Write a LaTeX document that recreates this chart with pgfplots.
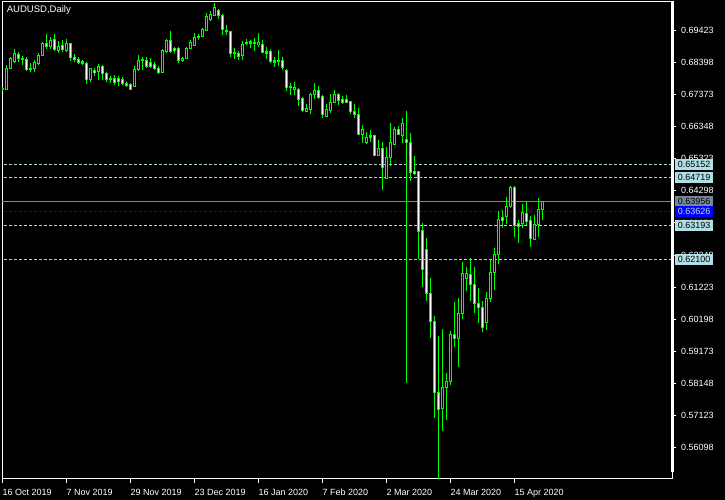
\documentclass[border=0pt]{standalone}
\usepackage{pgfplots}
\pgfplotsset{compat=1.18}
\usepackage{pgfplotstable}
\usepackage{fontspec}
\setmainfont{Liberation Sans}
\definecolor{lvl}{HTML}{ADD8E6}
\definecolor{lvlbox}{HTML}{B0E0E6}
\definecolor{bidgray}{HTML}{778899}
\definecolor{candle}{HTML}{00FF00}
\newcommand{\tickfont}{\fontsize{9}{10}\selectfont}

% AUDUSD daily candles: index, open, high, low, close
\pgfplotstableread{
i o h l c
0 0.6756 0.6760 0.6750 0.6754
1 0.6754 0.6832 0.6752 0.6821
2 0.6821 0.6858 0.6819 0.6853
3 0.6842 0.6882 0.6839 0.6867
4 0.6866 0.6874 0.6842 0.6851
5 0.6853 0.6860 0.6832 0.6851
6 0.6850 0.6858 0.6813 0.6816
7 0.6821 0.6839 0.6808 0.6818
8 0.6819 0.6847 0.6810 0.6839
9 0.6837 0.6869 0.6832 0.6863
10 0.6863 0.6905 0.6860 0.6901
11 0.6901 0.6930 0.6882 0.6892
12 0.6890 0.6920 0.6882 0.6909
13 0.6913 0.6930 0.6877 0.6882
14 0.6879 0.6909 0.6871 0.6892
15 0.6895 0.6911 0.6874 0.6882
16 0.6879 0.6913 0.6874 0.6899
17 0.6899 0.6903 0.6845 0.6856
18 0.6856 0.6867 0.6842 0.6850
19 0.6850 0.6858 0.6835 0.6839
20 0.6842 0.6847 0.6832 0.6837
21 0.6837 0.6842 0.6771 0.6784
22 0.6784 0.6821 0.6778 0.6819
23 0.6813 0.6821 0.6796 0.6807
24 0.6810 0.6835 0.6784 0.6828
25 0.6828 0.6832 0.6784 0.6803
26 0.6803 0.6810 0.6778 0.6784
27 0.6788 0.6796 0.6775 0.6784
28 0.6789 0.6800 0.6768 0.6775
29 0.6787 0.6796 0.6764 0.6778
30 0.6786 0.6792 0.6768 0.6773
31 0.6773 0.6781 0.6760 0.6767
32 0.6768 0.6773 0.6752 0.6754
33 0.6764 0.6828 0.6760 0.6818
34 0.6816 0.6863 0.6813 0.6847
35 0.6850 0.6858 0.6816 0.6845
36 0.6847 0.6856 0.6821 0.6828
37 0.6841 0.6853 0.6821 0.6828
38 0.6832 0.6842 0.6816 0.6821
39 0.6821 0.6828 0.6803 0.6807
40 0.6807 0.6882 0.6805 0.6877
41 0.6874 0.6913 0.6871 0.6909
42 0.6909 0.6941 0.6869 0.6874
43 0.6885 0.6890 0.6869 0.6879
44 0.6885 0.6890 0.6837 0.6847
45 0.6847 0.6858 0.6842 0.6853
46 0.6853 0.6890 0.6850 0.6885
47 0.6885 0.6913 0.6882 0.6903
48 0.6895 0.6933 0.6892 0.6920
49 0.6924 0.6930 0.6913 0.6920
50 0.6924 0.6949 0.6922 0.6945
51 0.6943 0.6999 0.6941 0.6986
52 0.6977 0.7005 0.6973 0.6994
53 0.6991 0.7031 0.6988 0.7016
54 0.7007 0.7009 0.6977 0.6991
55 0.6991 0.6994 0.6927 0.6945
56 0.6943 0.6959 0.6927 0.6938
57 0.6938 0.6941 0.6858 0.6869
58 0.6871 0.6885 0.6850 0.6867
59 0.6867 0.6877 0.6847 0.6860
60 0.6863 0.6909 0.6847 0.6897
61 0.6899 0.6913 0.6895 0.6903
62 0.6901 0.6911 0.6885 0.6906
63 0.6904 0.6917 0.6877 0.6902
64 0.6897 0.6933 0.6888 0.6903
65 0.6897 0.6911 0.6869 0.6871
66 0.6874 0.6888 0.6850 0.6869
67 0.6874 0.6882 0.6839 0.6842
68 0.6845 0.6856 0.6826 0.6841
69 0.6842 0.6879 0.6828 0.6847
70 0.6847 0.6856 0.6816 0.6824
71 0.6813 0.6818 0.6750 0.6760
72 0.6762 0.6773 0.6736 0.6760
73 0.6754 0.6778 0.6736 0.6760
74 0.6754 0.6757 0.6701 0.6722
75 0.6724 0.6728 0.6683 0.6686
76 0.6684 0.6707 0.6682 0.6692
77 0.6688 0.6743 0.6675 0.6739
78 0.6737 0.6773 0.6722 0.6749
79 0.6749 0.6764 0.6724 0.6727
80 0.6730 0.6736 0.6661 0.6675
81 0.6667 0.6707 0.6664 0.6688
82 0.6686 0.6739 0.6677 0.6713
83 0.6711 0.6752 0.6709 0.6739
84 0.6736 0.6743 0.6704 0.6718
85 0.6720 0.6733 0.6707 0.6711
86 0.6723 0.6736 0.6709 0.6711
87 0.6714 0.6718 0.6675 0.6683
88 0.6683 0.6707 0.6661 0.6672
89 0.6674 0.6693 0.6608 0.6611
90 0.6611 0.6640 0.6584 0.6626
91 0.6584 0.6619 0.6581 0.6601
92 0.6605 0.6624 0.6587 0.6601
93 0.6605 0.6608 0.6541 0.6543
94 0.6543 0.6592 0.6541 0.6566
95 0.6566 0.6587 0.6432 0.6505
96 0.6470 0.6571 0.6468 0.6537
97 0.6537 0.6647 0.6509 0.6584
98 0.6579 0.6633 0.6576 0.6626
99 0.6626 0.6637 0.6611 0.6611
100 0.6608 0.6661 0.6584 0.6645
101 0.6594 0.6685 0.5816 0.6584
102 0.6584 0.6616 0.6462 0.6488
103 0.6491 0.6541 0.6480 0.6484
104 0.6491 0.6494 0.6211 0.6299
105 0.6302 0.6328 0.6122 0.6179
106 0.6243 0.6280 0.6079 0.6103
107 0.6103 0.6151 0.5959 0.6014
108 0.6014 0.6030 0.5704 0.5787
109 0.5787 0.5966 0.5510 0.5732
110 0.5736 0.5989 0.5664 0.5803
111 0.5803 0.5849 0.5698 0.5821
112 0.5821 0.5982 0.5810 0.5970
113 0.5970 0.6076 0.5930 0.5959
114 0.5959 0.6089 0.5868 0.6039
115 0.6039 0.6204 0.6020 0.6167
116 0.6151 0.6188 0.6111 0.6167
117 0.6164 0.6214 0.6079 0.6131
118 0.6131 0.6188 0.6039 0.6071
119 0.6071 0.6121 0.6007 0.6058
120 0.6058 0.6079 0.5980 0.5994
121 0.6009 0.6108 0.5986 0.6087
122 0.6087 0.6211 0.6076 0.6170
123 0.6170 0.6246 0.6113 0.6228
124 0.6228 0.6365 0.6195 0.6337
125 0.6345 0.6369 0.6310 0.6334
126 0.6347 0.6409 0.6324 0.6381
127 0.6379 0.6445 0.6376 0.6441
128 0.6441 0.6445 0.6283 0.6318
129 0.6326 0.6337 0.6264 0.6315
130 0.6326 0.6388 0.6310 0.6361
131 0.6358 0.6395 0.6321 0.6331
132 0.6334 0.6349 0.6251 0.6278
133 0.6276 0.6353 0.6273 0.6323
134 0.6321 0.6406 0.6283 0.6371
135 0.6371 0.6395 0.6337 0.6395
}\candles

\begin{document}
\begin{tikzpicture}
\path[use as bounding box, fill=black] (-2pt,-21pt) rectangle (723pt,479pt);
\begin{axis}[
  at={(0pt,0pt)}, anchor=south west,
  scale only axis, width=670pt, height=477pt,
  xmin=-0.125, xmax=167.375, ymin=0.550987, ymax=0.703265,
  axis line style={white, line width=1pt},
  tick align=outside, major tick length=4pt,
  tick style={white, line width=1pt},
  xtick pos=left, ytick pos=right, yticklabel pos=right,
  xtick={0,16,32,48,64,80,96,112,128},
  xticklabels={16 Oct 2019,7 Nov 2019,29 Nov 2019,23 Dec 2019,16 Jan 2020,7 Feb 2020,2 Mar 2020,24 Mar 2020,15 Apr 2020},
  ytick={0.69423,0.68398,0.67373,0.66348,0.65323,0.64298,0.63273,0.62248,0.61223,0.60198,0.59173,0.58148,0.57123,0.56098},
  yticklabels={0.69423,0.68398,0.67373,0.66348,0.65323,0.64298,0.63273,0.62248,0.61223,0.60198,0.59173,0.58148,0.57123,0.56098},
  xticklabel style={anchor=north west, inner sep=0pt, yshift=-6pt, text=white, font=\tickfont},
  yticklabel style={anchor=west, inner sep=0pt, xshift=5pt, text=white, font=\tickfont},
  /pgf/number format/assume math mode=true,
]
% level lines
\addplot[lvl, line width=1pt, dash pattern=on 3pt off 2pt, forget plot] coordinates {(-1,0.65152) (170,0.65152)};
\addplot[lvl, line width=1pt, dash pattern=on 3pt off 2pt, forget plot] coordinates {(-1,0.64719) (170,0.64719)};
\addplot[lvl, line width=1pt, dash pattern=on 3pt off 2pt, forget plot] coordinates {(-1,0.63193) (170,0.63193)};
\addplot[lvl, line width=1pt, dash pattern=on 3pt off 2pt, forget plot] coordinates {(-1,0.62100) (170,0.62100)};
\addplot[bidgray, line width=1pt, forget plot] coordinates {(-1,0.63956) (170,0.63956)};
\addplot[blue, line width=1pt, dash pattern=on 3pt off 2pt, forget plot] coordinates {(-1,0.63626) (170,0.63626)};
% wicks
\addplot[draw=none, mark=none, forget plot,
  error bars/.cd, y dir=both, y explicit, error mark=none,
  error bar style={draw=candle, line width=1pt, solid}]
  table[x=i, y expr={(\thisrow{h}+\thisrow{l})/2}, y error expr={(\thisrow{h}-\thisrow{l})/2}] {\candles};
% body outlines
\addplot[draw=none, mark=none, forget plot,
  error bars/.cd, y dir=both, y explicit, error mark=none,
  error bar style={draw=candle, line width=3pt, solid}]
  table[x=i, y expr={(\thisrow{o}+\thisrow{c})/2}, y error expr={abs(\thisrow{o}-\thisrow{c})/2+0.00016}] {\candles};
% bear bodies (white)
\addplot[draw=none, mark=none, forget plot,
  error bars/.cd, y dir=both, y explicit, error mark=none,
  error bar style={draw=white, line width=1pt, solid}]
  table[x=i, y expr={(\thisrow{o}-\thisrow{c}>0.0005) ? (\thisrow{o}+\thisrow{c})/2 : nan}, y error expr={abs(\thisrow{o}-\thisrow{c})/2-0.00016}] {\candles};
% bull bodies (black)
\addplot[draw=none, mark=none, forget plot,
  error bars/.cd, y dir=both, y explicit, error mark=none,
  error bar style={draw=black, line width=1pt, solid}]
  table[x=i, y expr={(\thisrow{c}-\thisrow{o}>0.0005) ? (\thisrow{o}+\thisrow{c})/2 : nan}, y error expr={abs(\thisrow{o}-\thisrow{c})/2-0.00016}] {\candles};
\coordinate (L1) at (axis cs:167.375,0.65152);
\coordinate (L2) at (axis cs:167.375,0.64719);
\coordinate (L3) at (axis cs:167.375,0.63956);
\coordinate (L4) at (axis cs:167.375,0.63626);
\coordinate (L5) at (axis cs:167.375,0.63193);
\coordinate (L6) at (axis cs:167.375,0.62100);
\end{axis}
\draw[white, line width=2.3pt] (670.5pt,7pt) -- (670.5pt,477.5pt);
\tikzset{lbl/.style={anchor=west, xshift=3pt, inner xsep=2pt, inner ysep=0pt, minimum height=11pt, minimum width=38pt, text=black, font=\tickfont}}
\node[lbl, fill=lvlbox] at (L1) {0.65152};
\node[lbl, fill=lvlbox] at (L2) {0.64719};
\node[lbl, fill=bidgray] at (L3) {0.63956};
\node[lbl, fill=blue, text=lvlbox] at (L4) {0.63626};
\node[lbl, fill=lvlbox] at (L5) {0.63193};
\node[lbl, fill=lvlbox] at (L6) {0.62100};
\node[anchor=base west, inner sep=0pt, text=white, font=\fontsize{9.5}{11}\selectfont] at (4.7pt,466.3pt) {AUDUSD,Daily};
\end{tikzpicture}
\end{document}
